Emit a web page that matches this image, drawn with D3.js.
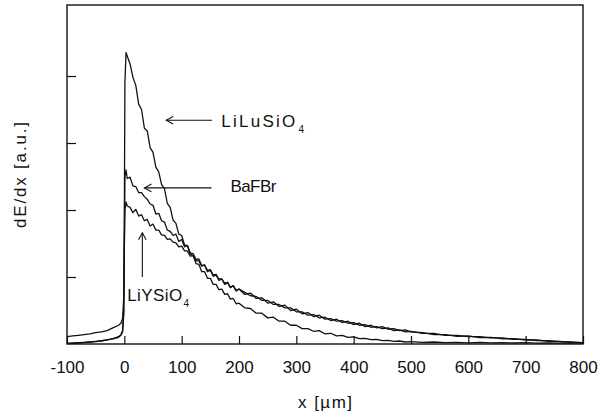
<!DOCTYPE html>
<html>
<head>
<meta charset="utf-8">
<script src="https://cdn.jsdelivr.net/npm/d3@7"></script>
<style>
  body { margin: 0; background: #fff; }
  svg { display: block; font-family: "Liberation Sans", Arial, sans-serif; }
</style>
</head>
<body>
<svg id="chart" width="600" height="418"></svg>
<script>
// x positions (µm) shared by the three traces
const xValues = [
  -100, -90, -80, -70, -60, -50, -40, -30, -20, -10, -6, -3, -1,
  0, 1, 3, 5,
  10, 15, 20, 25, 30, 35, 40, 45, 50, 55, 60, 65, 70, 75, 80, 85, 90, 95, 100,
  105, 110, 115, 120, 125, 130, 135, 140, 145, 150, 155, 160, 165, 170, 175, 180, 185, 190, 195, 200,
  210, 220, 230, 240, 250, 260, 270, 280, 290, 300, 310, 320, 330, 340, 350,
  360, 370, 380, 390, 400, 410, 420, 430, 440, 450, 460, 470, 480, 490, 500,
  520, 540, 560, 580, 600, 620, 640, 660, 680, 700, 720, 740, 760, 780, 800
];

// dE/dx [a.u.]
const liLuSiO4 = [
  0.01, 0.015, 0.02, 0.025, 0.03, 0.04, 0.05, 0.06, 0.08, 0.11, 0.14, 0.2, 0.5,
  1.9, 3.9, 4.35, 4.3,
  4.18, 3.98, 3.86, 3.58, 3.5, 3.22, 3.18, 2.93, 2.86, 2.64, 2.57, 2.38, 2.32, 2.1, 2.04, 1.85, 1.8, 1.64, 1.62,
  1.48, 1.47, 1.34, 1.32, 1.2, 1.19, 1.08, 1.08, 0.98, 0.98, 0.89, 0.89, 0.81, 0.82, 0.74, 0.75, 0.67, 0.68, 0.6, 0.61,
  0.54, 0.53, 0.46, 0.46, 0.39, 0.4, 0.34, 0.34, 0.28, 0.28, 0.23, 0.23, 0.19, 0.2, 0.15,
  0.16, 0.12, 0.13, 0.1, 0.105, 0.08, 0.085, 0.065, 0.07, 0.05, 0.055, 0.04, 0.045, 0.03, 0.035,
  0.025, 0.03, 0.02, 0.025, 0.018, 0.024, 0.016, 0.021, 0.015, 0.02, 0.013, 0.017, 0.012, 0.016, 0.012
];

const baFBr = [
  0.005, 0.01, 0.015, 0.02, 0.03, 0.035, 0.045, 0.06, 0.075, 0.1, 0.13, 0.18, 0.45,
  1.5, 2.5, 2.6, 2.47,
  2.49, 2.36, 2.35, 2.26, 2.26, 2.2, 2.16, 2.09, 2.07, 1.94, 1.95, 1.84, 1.82, 1.7, 1.68, 1.62, 1.64, 1.53, 1.56,
  1.45, 1.47, 1.36, 1.35, 1.26, 1.27, 1.17, 1.18, 1.08, 1.1, 1.01, 1.03, 0.95, 0.97, 0.89, 0.92, 0.84, 0.87, 0.79, 0.82,
  0.74, 0.76, 0.68, 0.69, 0.61, 0.63, 0.56, 0.58, 0.5, 0.52, 0.45, 0.47, 0.41, 0.43, 0.37,
  0.38, 0.34, 0.35, 0.31, 0.32, 0.28, 0.29, 0.25, 0.26, 0.23, 0.24, 0.2, 0.21, 0.18, 0.19,
  0.16, 0.16, 0.13, 0.13, 0.11, 0.11, 0.09, 0.09, 0.07, 0.07, 0.05, 0.05, 0.035, 0.03, 0.02
];

const liYSiO4 = [
  0.11, 0.12, 0.13, 0.14, 0.15, 0.17, 0.18, 0.2, 0.24, 0.28, 0.31, 0.38, 0.7,
  1.4, 2.0, 2.12, 2.06,
  2.04, 1.96, 2.01, 1.91, 1.93, 1.84, 1.86, 1.76, 1.79, 1.7, 1.7, 1.63, 1.62, 1.56, 1.57, 1.52, 1.51, 1.45, 1.46,
  1.39, 1.39, 1.31, 1.32, 1.24, 1.24, 1.16, 1.18, 1.1, 1.11, 1.03, 1.04, 0.97, 0.97, 0.91, 0.92, 0.85, 0.87, 0.8, 0.82,
  0.77, 0.72, 0.71, 0.65, 0.65, 0.59, 0.59, 0.54, 0.54, 0.48, 0.48, 0.43, 0.44, 0.39, 0.4,
  0.35, 0.37, 0.32, 0.34, 0.29, 0.31, 0.26, 0.28, 0.24, 0.26, 0.22, 0.23, 0.2, 0.21, 0.18,
  0.17, 0.14, 0.14, 0.115, 0.12, 0.095, 0.1, 0.075, 0.08, 0.06, 0.06, 0.04, 0.04, 0.025, 0.02
];

const xTicks = [-100, 0, 100, 200, 300, 400, 500, 600, 700, 800];
const yTicks = [1, 2, 3, 4];

const svg = d3.select("#chart");
const margin = { top: 5, right: 17, bottom: 74, left: 67 };
const width = +svg.attr("width") - margin.left - margin.right;
const height = +svg.attr("height") - margin.top - margin.bottom;

const chart = svg.append("g")
  .attr("transform", `translate(${margin.left},${margin.top})`);

const x = d3.scaleLinear().domain([-100, 800]).range([0, width]);
const y = d3.scaleLinear().domain([0, 5.06]).range([height, 0]);

// axes, ticks pointing inward
const xAxis = chart.append("g")
  .attr("transform", `translate(0,${height})`)
  .call(d3.axisBottom(x).tickValues(xTicks).tickSizeInner(-8).tickSizeOuter(0)
    .tickPadding(17).tickFormat(d => String(d)));
xAxis.select(".domain").remove();
xAxis.selectAll("line").attr("stroke", "#111").attr("stroke-width", 1.2);
xAxis.selectAll("text")
  .attr("fill", "#111")
  .style("font-size", "17px")
  .style("font-family", "'Liberation Sans', Arial, sans-serif");

const yAxis = chart.append("g")
  .call(d3.axisLeft(y).tickValues(yTicks).tickSizeInner(-9).tickSizeOuter(0).tickFormat(""));
yAxis.select(".domain").remove();
yAxis.selectAll("line").attr("stroke", "#111").attr("stroke-width", 1.2);

// traces
const line = d3.line()
  .x((d, i) => x(xValues[i]))
  .y(d => y(d));

[liLuSiO4, baFBr, liYSiO4].forEach(series => {
  chart.append("path")
    .datum(series)
    .attr("fill", "none")
    .attr("stroke", "#111")
    .attr("stroke-width", 1.3)
    .attr("stroke-linejoin", "round")
    .attr("d", line);
});

// frame
chart.append("rect")
  .attr("x", 0).attr("y", 0)
  .attr("width", width).attr("height", height)
  .attr("fill", "none")
  .attr("stroke", "#111")
  .attr("stroke-width", 1.4);

// annotations
function arrow(x1, y1, x2, y2) {
  const px1 = x(x1), py1 = y(y1), px2 = x(x2), py2 = y(y2);
  chart.append("line")
    .attr("x1", px1).attr("y1", py1).attr("x2", px2).attr("y2", py2)
    .attr("stroke", "#111").attr("stroke-width", 1.1);
  const a = Math.atan2(py2 - py1, px2 - px1);
  const len = 8, spread = 0.5;
  const p = [
    [px2 - len * Math.cos(a - spread), py2 - len * Math.sin(a - spread)],
    [px2, py2],
    [px2 - len * Math.cos(a + spread), py2 - len * Math.sin(a + spread)]
  ];
  chart.append("path")
    .attr("d", d3.line()(p))
    .attr("fill", "none").attr("stroke", "#111").attr("stroke-width", 1.1);
}

function label(xv, yv, main, sub, len) {
  const t = chart.append("text")
    .attr("x", x(xv)).attr("y", y(yv))
    .attr("fill", "#111")
    .style("font-size", "17px");
  const m = t.append("tspan").text(main);
  if (len) m.attr("textLength", len).attr("lengthAdjust", "spacing");
  if (sub) t.append("tspan").attr("dx", 1).attr("dy", 6).style("font-size", "10px").text(sub);
}

arrow(153, 3.34, 73, 3.34);
label(169, 3.24, "LiLuSiO", "4", 74);

arrow(152, 2.33, 35, 2.33);
label(185, 2.27, "BaFBr", null, 46);

arrow(31.4, 1.0, 31.4, 1.66);
label(5, 0.64, "LiYSiO", "4", 55);

// axis titles
svg.append("text")
  .attr("x", 325).attr("y", 408)
  .attr("text-anchor", "middle")
  .attr("fill", "#111")
  .attr("textLength", 54).attr("lengthAdjust", "spacing")
  .style("font-size", "17px")
  .text("x [µm]");

svg.append("text")
  .attr("transform", "translate(26,175) rotate(-90)")
  .attr("text-anchor", "middle")
  .attr("fill", "#111")
  .attr("textLength", 106).attr("lengthAdjust", "spacing")
  .style("font-size", "17px")
  .text("dE/dx  [a.u.]");
</script>
</body>
</html>
